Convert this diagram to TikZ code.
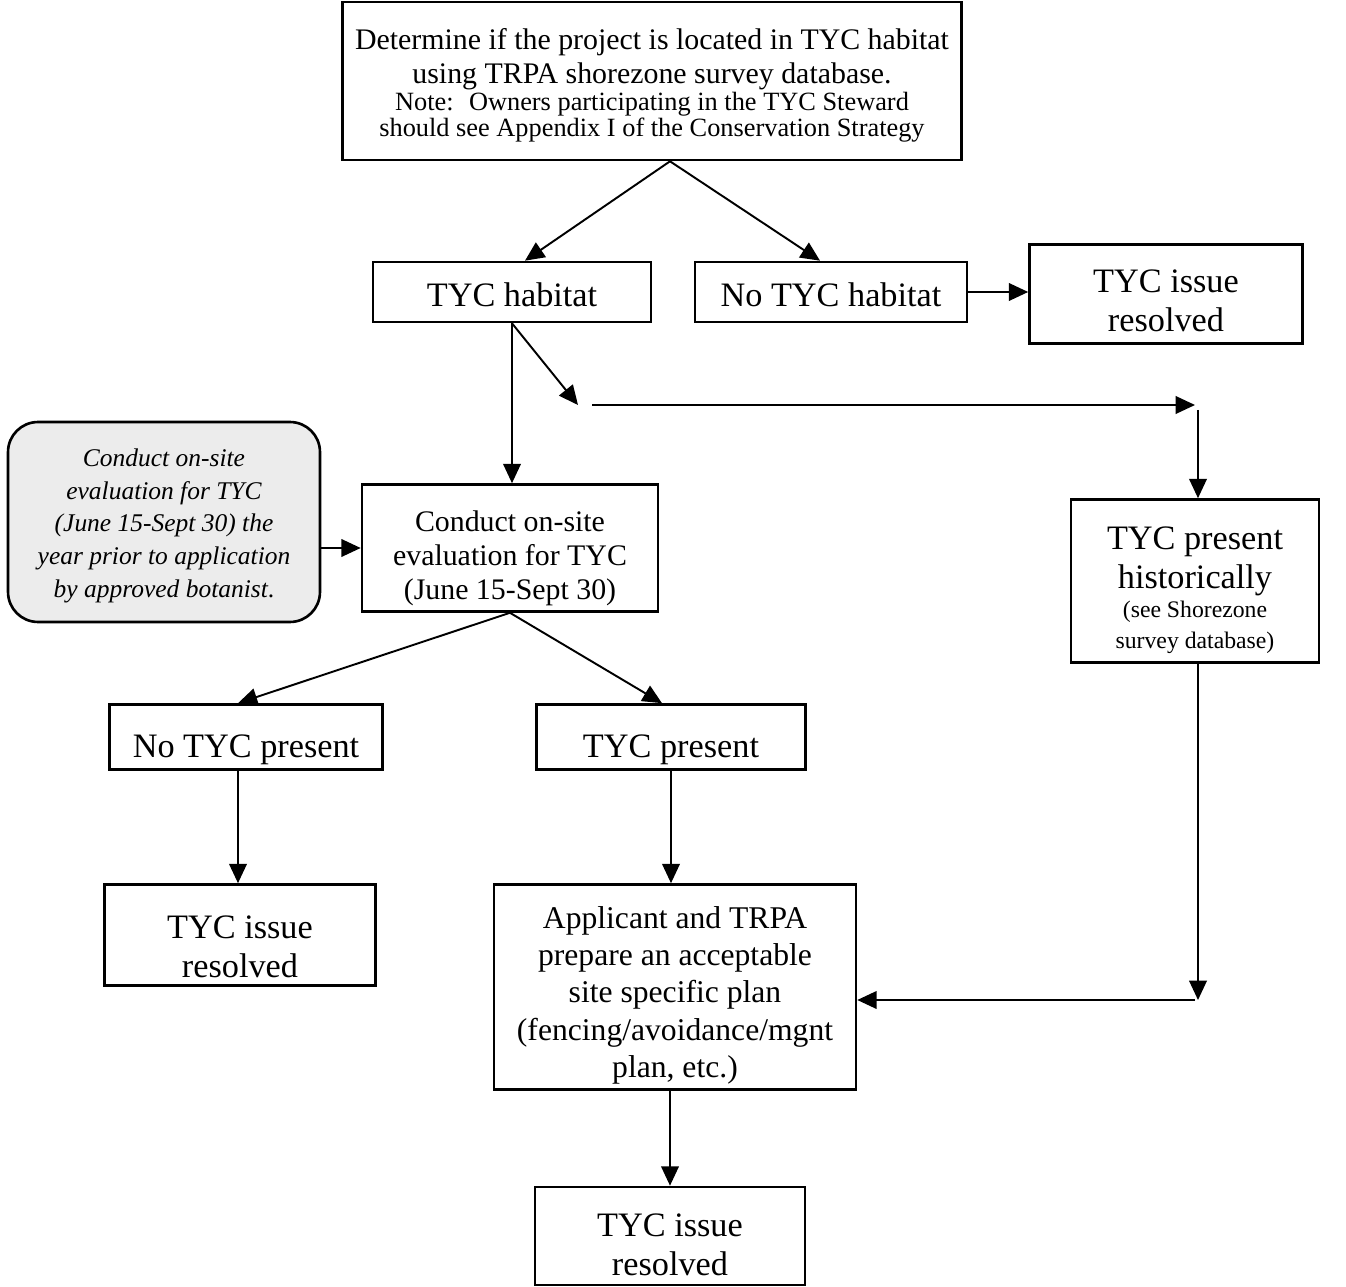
\documentclass[tikz,border=0pt]{standalone}
\usepackage{fontspec}
\setmainfont{Liberation Serif}
\usetikzlibrary{arrows.meta}
\usetikzlibrary{calc}

\newcommand{\notesize}{\fontsize{15pt}{16pt}\selectfont}
\newcommand{\refsize}{\fontsize{13.5pt}{16pt}\selectfont}
\newcommand{\lift}[1]{\rule{0pt}{#1}}

\tikzset{
  box/.style={draw, line width=1.5pt, align=center, inner sep=0pt},
  sizebig/.style={font=\fontsize{19.5pt}{22pt}\selectfont},
  sizemid/.style={font=\fontsize{17pt}{19.5pt}\selectfont},
  link/.style={line width=1.1pt, -{Triangle[length=11pt,width=10pt]}},
}

\begin{document}
\begin{tikzpicture}[x=0.02cm, y=-0.02cm]

  \useasboundingbox (0,0) rectangle (1346,1287);

  % Opening question
  \node[box, sizemid, minimum width=12.38cm, minimum height=3.16cm] (start) at (652,81)
    {\lift{17pt}Determine if the project is located in TYC habitat\\
     using TRPA shorezone survey database.\\[-4.4pt]
     \notesize Note:~ Owners participating in the TYC Steward\\[-4.2pt]
     \notesize should see Appendix I of the Conservation Strategy};

  % Habitat split
  \node[box, sizebig, minimum width=5.56cm, minimum height=1.2cm] (hab) at (512,292) {\lift{16.7pt}TYC habitat};
  \node[box, sizebig, minimum width=5.44cm, minimum height=1.2cm] (nohab) at (831,292) {\lift{16.7pt}No TYC habitat};
  \node[box, sizebig, minimum width=5.46cm, minimum height=1.98cm] (res1) at (1166,294) {\lift{20.7pt}TYC issue\\ resolved};

  % On-site evaluation
  \node[box, fill=gray!15, rounded corners=0.6cm, minimum width=6.24cm, minimum height=4cm,
        font=\fontsize{14.5pt}{18.6pt}\selectfont\itshape] (side) at (164,522)
    {\lift{14.5pt}Conduct on-site\\ evaluation for TYC\\ (June 15-Sept 30) the\\ year prior to application\\ by approved botanist{\upshape .}};
  \node[box, sizemid, minimum width=5.92cm, minimum height=2.54cm] (eval) at (510,548)
    {\lift{23.5pt}Conduct on-site\\ evaluation for TYC\\ (June 15-Sept 30)};

  % Historical record
  \node[box, sizebig, minimum width=4.96cm, minimum height=3.26cm] (hist) at (1195,581)
    {\lift{23.5pt}TYC present\\ historically\\[-5pt] \refsize (see Shorezone\\[-4.5pt] \refsize survey database)};

  % Survey outcome
  \node[box, sizebig, minimum width=5.46cm, minimum height=1.3cm] (notp) at (246,737) {\lift{27pt}No TYC present};
  \node[box, sizebig, minimum width=5.38cm, minimum height=1.3cm] (pres) at (671,737) {\lift{27pt}TYC present};
  \node[box, sizebig, minimum width=5.42cm, minimum height=2.02cm] (res2) at (240,935) {\lift{26pt}TYC issue\\ resolved};

  % Plan and final result
  \node[box, font=\fontsize{18pt}{21.3pt}\selectfont, minimum width=7.24cm, minimum height=4.1cm] (plan) at (675,987)
    {\lift{22pt}Applicant and TRPA\\ prepare an acceptable\\ site specific plan\\ (fencing/avoidance/mgnt\\ plan, etc.)};
  \node[box, sizebig, minimum width=5.4cm, minimum height=1.96cm] (res3) at (670,1236) {\lift{23pt}TYC issue\\ resolved};

  % Connectors
  \coordinate (split) at (578,405);
  \coordinate (runL) at (592,405);
  \coordinate (join) at (1195,1000);

  \draw[link] ($(start.south)+(18,0)$) -- ($(hab.north)+(13,0)$);
  \draw[link] ($(start.south)+(18,0)$) -- ($(nohab.north)+(-11,0)$);
  \draw[link] (nohab.east) -- (nohab.east -| res1.west);

  \draw[link] (hab.south) -- (hab.south |- eval.north);
  \draw[link] (hab.south) -- (split);
  \draw[link] (runL) -- (runL -| hist.north);
  \draw[link] ($(hist.north |- runL)+(3,5)$) -- ($(hist.north)+(3,0)$);

  \draw[link] (side.east |- eval.west) -- (eval.west);

  \draw[link] (eval.south) -- ($(notp.north)+(-8,0)$);
  \draw[link] (eval.south) -- ($(pres.north)+(-9,0)$);
  \draw[link] ($(notp.south)+(-8,0)$) -- ($(notp.south |- res2.north)+(-8,0)$);
  \draw[link] (pres.south) -- (pres.south |- plan.north);

  \draw[link] ($(hist.south)+(3,0)$) -- ($(join)+(3,0)$);
  \draw[link] (join) -- (join -| plan.east);
  \draw[link] (res3.north |- plan.south) -- (res3.north);

\end{tikzpicture}
\end{document}
